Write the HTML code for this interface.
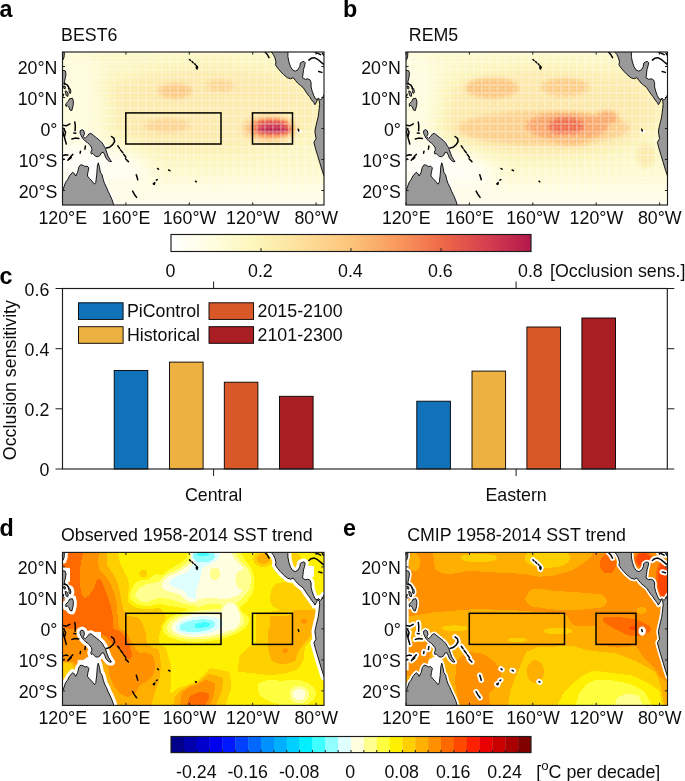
<!DOCTYPE html>
<html><head><meta charset="utf-8"><title>Figure</title>
<style>html,body{margin:0;padding:0;background:#fff}svg{display:block;will-change:transform}text{font-family:"Liberation Sans", sans-serif;font-size:17.8px;fill:#0d0d0d}.lab{font-weight:bold;font-size:23.3px;fill:#000}.ax{stroke:#1c1c1c;stroke-width:1.15;fill:none}.tk{stroke:#1c1c1c;stroke-width:1}.bx{stroke:#000;stroke-width:1.5;fill:none}.ld{fill:#999;stroke:#000;stroke-width:0.9;stroke-linejoin:round}.is{fill:none;stroke:#000;stroke-width:1.5;stroke-linecap:round;stroke-linejoin:round}</style></head><body>
<svg width="685" height="781" viewBox="0 0 685 781">
<rect width="685" height="781" fill="#fff"/>
<defs>
<filter id="fs" x="-5%" y="-5%" width="110%" height="110%" color-interpolation-filters="sRGB"><feGaussianBlur stdDeviation="2.1"/><feComponentTransfer><feFuncR type="table" tableValues="1.000 1.000 0.988 0.992 0.988 0.976 0.933 0.839 0.698"/><feFuncG type="table" tableValues="1.000 0.992 0.957 0.867 0.769 0.608 0.416 0.251 0.094"/><feFuncB type="table" tableValues="1.000 0.863 0.714 0.596 0.478 0.369 0.282 0.310 0.294"/><feFuncA type="linear" slope="0" intercept="1"/></feComponentTransfer></filter>
<filter id="fd" x="-5%" y="-5%" width="110%" height="110%" color-interpolation-filters="sRGB"><feGaussianBlur stdDeviation="1.5"/><feComponentTransfer><feFuncR type="discrete" tableValues="0.000 0.000 0.000 0.000 0.000 0.000 0.000 0.000 0.000 0.000 0.000 0.251 0.565 0.878 1.000 1.000 1.000 1.000 1.000 1.000 1.000 1.000 1.000 1.000 0.910 0.784 0.659 0.502"/><feFuncG type="discrete" tableValues="0.000 0.000 0.000 0.000 0.094 0.251 0.408 0.565 0.690 0.816 0.941 1.000 1.000 1.000 1.000 1.000 1.000 0.941 0.816 0.690 0.565 0.416 0.282 0.125 0.000 0.000 0.000 0.000"/><feFuncB type="discrete" tableValues="0.545 0.675 0.804 0.933 1.000 1.000 1.000 1.000 1.000 1.000 1.000 1.000 1.000 1.000 0.878 0.565 0.251 0.000 0.000 0.000 0.000 0.000 0.000 0.000 0.000 0.000 0.000 0.000"/><feFuncA type="linear" slope="0" intercept="1"/></feComponentTransfer></filter>
<filter id="fe" x="-5%" y="-5%" width="110%" height="110%" color-interpolation-filters="sRGB"><feGaussianBlur stdDeviation="1.8"/><feComponentTransfer><feFuncR type="discrete" tableValues="0.000 0.000 0.000 0.000 0.000 0.000 0.000 0.000 0.000 0.000 0.000 0.251 0.565 0.878 1.000 1.000 1.000 1.000 1.000 1.000 1.000 1.000 1.000 1.000 0.910 0.784 0.659 0.502"/><feFuncG type="discrete" tableValues="0.000 0.000 0.000 0.000 0.094 0.251 0.408 0.565 0.690 0.816 0.941 1.000 1.000 1.000 1.000 1.000 1.000 0.941 0.816 0.690 0.565 0.416 0.282 0.125 0.000 0.000 0.000 0.000"/><feFuncB type="discrete" tableValues="0.545 0.675 0.804 0.933 1.000 1.000 1.000 1.000 1.000 1.000 1.000 1.000 1.000 1.000 0.878 0.565 0.251 0.000 0.000 0.000 0.000 0.000 0.000 0.000 0.000 0.000 0.000 0.000"/><feFuncA type="linear" slope="0" intercept="1"/></feComponentTransfer></filter>
<filter id="fb" x="-20%" y="-20%" width="140%" height="140%" color-interpolation-filters="sRGB"><feGaussianBlur stdDeviation="9"/></filter>
<clipPath id="cm"><rect x="0" y="0" width="261.5" height="153"/></clipPath>
<pattern id="gr" x="3.6" y="1.2" width="7.925" height="7.75" patternUnits="userSpaceOnUse"><path d="M0 .8H7.925M.8 0V7.75" stroke="#fff" stroke-width="1.6" opacity=".36"/><path d="M0 4.7H7.925M4.75 0V7.75" stroke="#fff" stroke-width="1" opacity=".2"/></pattern>
<linearGradient id="g1" x1="0" x2="1" y1="0" y2="0">
<stop offset="0.0000" stop-color="#FFFFFF"/>
<stop offset="0.1250" stop-color="#FFFDDC"/>
<stop offset="0.2500" stop-color="#FCF4B6"/>
<stop offset="0.3750" stop-color="#FDDD98"/>
<stop offset="0.5000" stop-color="#FCC47A"/>
<stop offset="0.6250" stop-color="#F99B5E"/>
<stop offset="0.7500" stop-color="#EE6A48"/>
<stop offset="0.8750" stop-color="#D6404F"/>
<stop offset="1.0000" stop-color="#B2184B"/>
</linearGradient>
</defs>
<g transform="translate(62.5 52)">
<g clip-path="url(#cm)"><g filter="url(#fs)"><g filter="url(#fb)"><rect x="-20" y="-20" width="301.5" height="193" fill="#353535"/><ellipse cx="150" cy="58" rx="115" ry="46" fill="#4b4b4b"/><ellipse cx="12" cy="55" rx="32" ry="60" fill="#232323"/><ellipse cx="15" cy="135" rx="78" ry="42" fill="#080808"/><rect x="-20" y="126" width="310" height="60" fill="#202020"/><rect x="-20" y="142" width="310" height="60" fill="#131313"/><ellipse cx="135" cy="36" rx="100" ry="11" fill="#545454"/><ellipse cx="110" cy="76" rx="50" ry="12" fill="#545454"/></g><ellipse cx="112.7" cy="38.9" rx="17" ry="8" fill="#7b7b7b"/><ellipse cx="157.5" cy="33.8" rx="14" ry="6.5" fill="#6b6b6b"/><ellipse cx="104.5" cy="73.6" rx="23" ry="7" fill="#6e6e6e"/><ellipse cx="207" cy="76.5" rx="29" ry="15" fill="#696969"/><ellipse cx="208" cy="76.5" rx="23" ry="10.5" fill="#9f9f9f"/><ellipse cx="209" cy="71.4" rx="17" ry="3.4" fill="#dfdfdf"/><ellipse cx="210.5" cy="78" rx="18" ry="3.4" fill="#ffffff"/></g><rect width="261.5" height="153" fill="url(#gr)"/></g>
<g clip-path="url(#cm)"><polygon points="225.4,-2.4 225.4,-0.2 225.4,4.6 226.4,10 228.1,14.9 230.2,18.1 232.9,19.2 235.6,17.6 237.3,14.4 237.8,11.1 239.4,10 241.6,9.5 242.7,10.6 242.1,13.8 241,17.6 240.5,21.9 240,25.7 242.7,27.3 245.4,26.8 247.5,27.9 248.6,30.6 248.6,34.9 249.7,39.2 251.3,43.5 252.9,46.8 254.5,47.3 256.2,46.2 257.8,47.9 259.4,46.8 260.5,44.6 261.6,42.5 264,41.9 264,-2.4" fill="#fff"/><g fill="none" stroke="#fff" stroke-linejoin="round" opacity=".9"><polygon points="-1.9,139.1 0,139.1 3.1,130.3 5,127.8 6.9,124 10.1,120.3 11.9,121.5 13.2,124 15.1,120.3 16.3,115.2 18.2,112.7 20.7,113.4 22.6,114.6 24.5,114 26.4,115.9 25.4,120.3 24.9,124 27,126.5 29.5,129.1 32,132.2 33.3,130.3 34.2,122.8 34.9,114 35.8,110.8 37,115.2 37.9,120.3 39.6,122.8 40.8,127.8 42.1,131.6 44,135.3 45.8,139.7 47.7,143.5 49.6,147.9 51.7,154.2 -1.9,154.2" stroke-width="3.4"/><polygon points="17.6,78.8 19.5,77.6 21.4,78.8 22,82 20.7,84.5 22.6,86.4 24.5,84.5 26.4,82 28.3,81.3 30.8,83.2 33.9,85.7 37,88.2 39.6,90.8 41.4,93.9 42.7,95.8 43.3,97.7 44.6,101.4 45.8,104.6 47.7,107.7 49,109.6 47.1,109.6 45.2,108.3 43.3,105.8 42.1,102.7 40.8,100.2 38.9,100.8 37.7,103.3 35.8,104.6 33.3,104.6 31.4,102.7 30.1,101.4 28.9,102.1 28.3,100.2 29.5,97.7 28.9,95.2 27,92.6 25.1,90.8 23.2,89.5 22,88.2 20.1,86.4 18.8,83.9 17.6,81.3" stroke-width="2.6"/><polygon points="24,113.4 26.4,115.9 25.4,120.3 24.9,124 27,126.5 29.5,129.1 32,132.2 33.3,130.3 34.2,122.8 34.9,114 35.8,110.8 34,107.5 28.5,106.5 24.5,109" stroke-width="2.6" fill="#fff"/></g><rect x="234.6" y="78.2" width="5" height="2.6" fill="#fff"/><g class="ld"><polygon points="-1.9,139.1 0,139.1 3.1,130.3 5,127.8 6.9,124 10.1,120.3 11.9,121.5 13.2,124 15.1,120.3 16.3,115.2 18.2,112.7 20.7,113.4 22.6,114.6 24.5,114 26.4,115.9 25.4,120.3 24.9,124 27,126.5 29.5,129.1 32,132.2 33.3,130.3 34.2,122.8 34.9,114 35.8,110.8 37,115.2 37.9,120.3 39.6,122.8 40.8,127.8 42.1,131.6 44,135.3 45.8,139.7 47.7,143.5 49.6,147.9 51.7,154.2 -1.9,154.2"/><polygon points="17.6,78.8 19.5,77.6 21.4,78.8 22,82 20.7,84.5 22.6,86.4 24.5,84.5 26.4,82 28.3,81.3 30.8,83.2 33.9,85.7 37,88.2 39.6,90.8 41.4,93.9 42.7,95.8 43.3,97.7 44.6,101.4 45.8,104.6 47.7,107.7 49,109.6 47.1,109.6 45.2,108.3 43.3,105.8 42.1,102.7 40.8,100.2 38.9,100.8 37.7,103.3 35.8,104.6 33.3,104.6 31.4,102.7 30.1,101.4 28.9,102.1 28.3,100.2 29.5,97.7 28.9,95.2 27,92.6 25.1,90.8 23.2,89.5 22,88.2 20.1,86.4 18.8,83.9 17.6,81.3"/><polygon points="208.6,-2.4 208.6,-0.2 210.8,2.5 212.4,5.7 213.5,10 212.9,12.7 215.1,16 217.8,19.2 221,22.5 224.8,25.7 228.1,26.8 230.8,25.7 232.9,28.4 235.1,31.1 237.8,33.3 240.5,35.4 242.7,38.7 244.8,41.9 247,44.6 249.1,47.9 251.3,50.6 252.4,52.7 254,50 255.1,47.3 256.7,48.4 257.2,52.2 256.7,56.5 256.2,60.8 255.6,65.1 254.5,69.5 253.5,73.8 252.4,79 252.9,83 253.6,86.7 251.4,90.3 252.9,96.2 255.1,103.5 257.3,110.8 259.5,118.1 261.7,124.6 264,126 264,41.9 261.6,42.5 260.5,44.6 259.4,46.8 257.8,47.9 256.2,46.2 254.5,47.3 252.9,46.8 251.3,43.5 249.7,39.2 248.6,34.9 248.6,30.6 247.5,27.9 245.4,26.8 242.7,27.3 240,25.7 240.5,21.9 241,17.6 242.1,13.8 242.7,10.6 241.6,9.5 239.4,10 237.8,11.1 237.3,14.4 235.6,17.6 232.9,19.2 230.2,18.1 228.1,14.9 226.4,10 225.4,4.6 225.4,-0.2 225.4,-2.4"/><polygon points="-0.5,18.1 2.7,18.8 3.5,21.6 2.9,25.7 1.9,29.8 2.7,31.9 1.7,32.3 -0.5,30.9"/><polygon points="-0.5,0 1.9,0.4 1.6,5 0.6,7.8 -0.5,7.8"/><polygon points="3.2,51.9 5.8,49.3 7,46.8 9.9,46.3 10.9,49.3 10.7,53.4 9.3,58.6 7.6,58.1 6.3,55 4.7,53.4 3.5,54.5"/><polygon points="1.1,33.8 2.9,34.6 2.7,36.8 1.3,36.4"/><polygon points="5.8,36 7.7,36.6 8.4,39.5 7.9,41.4 6.5,40.6 6.7,38.4"/><polygon points="2.7,39 4.3,39.4 5.7,42 5.3,44.4 3.9,43.8 3.1,41.6"/></g><g class="is"><polyline points="1.9,31.6 4.7,32.9 6.3,35.5"/><polyline points="0.1,44.5 1.1,42.5"/><polyline points="127,7.5 128,8.5"/><polyline points="129.5,9.5 130.7,10.8"/><polyline points="132.1,11.8 132.9,12.6"/><polyline points="133.9,13.6 135.1,15.3 134.5,17 133.7,15.2"/><polyline points="44,96 47.1,95.2 50.2,92.6 52.1,89.5 51.5,86.4 49,84.5"/><polyline points="55.3,93.9 57.1,96.4"/><polyline points="58,97.9 60.3,100.8"/><polyline points="61.2,102.3 63.4,105.2"/><polyline points="63,106.7 65.9,109.6"/><polyline points="73.8,122.8 75.3,127.8"/><polyline points="70.1,139.1 71.8,142.2 74.1,145.4"/><polyline points="90.8,131.8 92.3,130.6 91.7,132.4 90.8,131.8"/><polyline points="93.9,128.2 94.8,127.6"/><polyline points="106.1,118 107.5,118.6"/><polyline points="133,129.2 133.8,129.8"/><polyline points="95,116.5 96,117.2"/><polyline points="235.7,77.2 236.3,79"/><polyline points="202.7,0.3 204.8,2.5 206.5,5.7"/><polyline points="246.4,8.1 248.6,6.3 251.8,5.7 255.1,7.3 258.3,10 261,12.2"/><polyline points="256.2,19.5 259.4,20.4"/><polyline points="252.9,0.5 255.6,1.4 258.1,2.7"/><polyline points="259.9,1.2 261.1,3"/><polyline points="12.3,70 12.8,73.8 12.6,78.8"/><polyline points="11.3,81.1 13.3,81.3"/><polyline points="0.3,73.2 3.8,73.8 7.3,71.9"/><polyline points="1,76.3 3.1,80.1 1.9,85.1 3.8,92"/><polyline points="0.3,78.8 1.3,83.9"/><polyline points="9.4,87 12.6,86.1 16.3,86.6"/><polyline points="22.9,94.1 22.4,97.2"/><polyline points="18,99.2 17.6,101.2"/><polyline points="5.3,108.3 8.2,104.6 10.3,102.4"/><polyline points="0,103.7 3.1,102.7 5.3,103.1"/><polyline points="0,107.7 1.5,107"/><polyline points="6.9,107.1 8.8,105.4"/></g></g>
<rect class="bx" x="63.3" y="60.9" width="95.2" height="31.1"/>
<rect class="bx" x="190" y="60.9" width="40" height="31.1"/>
<rect class="ax" x="0" y="0" width="261.5" height="153"/>
<path class="tk" d="M0 14.5 h2.6 M261.5 14.5 h-2.6"/>
<text x="-5.1" y="22" text-anchor="end">20°N</text>
<path class="tk" d="M0 45.5 h2.6 M261.5 45.5 h-2.6"/>
<text x="-5.1" y="53" text-anchor="end">10°N</text>
<path class="tk" d="M0 76.5 h2.6 M261.5 76.5 h-2.6"/>
<text x="-5.1" y="84" text-anchor="end">0°</text>
<path class="tk" d="M0 107.5 h2.6 M261.5 107.5 h-2.6"/>
<text x="-5.1" y="115" text-anchor="end">10°S</text>
<path class="tk" d="M0 138.5 h2.6 M261.5 138.5 h-2.6"/>
<text x="-5.1" y="146" text-anchor="end">20°S</text>
<path class="tk" d="M0 0 v2.6 M0 153 v-2.6"/>
<text x="0.2" y="171.6" text-anchor="middle">120°E</text>
<path class="tk" d="M63.4 0 v2.6 M63.4 153 v-2.6"/>
<text x="63.6" y="171.6" text-anchor="middle">160°E</text>
<path class="tk" d="M126.8 0 v2.6 M126.8 153 v-2.6"/>
<text x="127" y="171.6" text-anchor="middle">160°W</text>
<path class="tk" d="M190.2 0 v2.6 M190.2 153 v-2.6"/>
<text x="190.4" y="171.6" text-anchor="middle">120°W</text>
<path class="tk" d="M253.6 0 v2.6 M253.6 153 v-2.6"/>
<text x="253.8" y="171.6" text-anchor="middle">80°W</text>
<text x="-1.4" y="-11.3">BEST6</text>
</g>
<g transform="translate(406 52)">
<g clip-path="url(#cm)"><g filter="url(#fs)"><g filter="url(#fb)"><rect x="-20" y="-20" width="301.5" height="193" fill="#303030"/><ellipse cx="140" cy="60" rx="120" ry="48" fill="#494949"/><ellipse cx="5" cy="50" rx="28" ry="60" fill="#202020"/><ellipse cx="15" cy="135" rx="78" ry="42" fill="#080808"/><rect x="-20" y="130" width="310" height="60" fill="#1d1d1d"/><rect x="-20" y="145" width="310" height="60" fill="#101010"/><ellipse cx="118" cy="36" rx="78" ry="14" fill="#535353"/><ellipse cx="135" cy="76" rx="100" ry="24" fill="#565656"/><ellipse cx="205" cy="48" rx="45" ry="30" fill="#505050"/></g><ellipse cx="86" cy="36" rx="27" ry="10.5" fill="#808080"/><ellipse cx="159" cy="35" rx="24" ry="9.5" fill="#767676"/><ellipse cx="138" cy="76" rx="86" ry="17" fill="#737373"/><ellipse cx="161" cy="74" rx="42" ry="14" fill="#999999"/><ellipse cx="160" cy="74" rx="18" ry="9" fill="#bfbfbf"/><ellipse cx="165" cy="88" rx="20" ry="6" fill="#868686"/><ellipse cx="200.9" cy="65.5" rx="12" ry="7" fill="#969696"/><ellipse cx="240" cy="103" rx="10" ry="13" fill="#4e4e4e"/></g><rect width="261.5" height="153" fill="url(#gr)"/></g>
<g clip-path="url(#cm)"><polygon points="225.4,-2.4 225.4,-0.2 225.4,4.6 226.4,10 228.1,14.9 230.2,18.1 232.9,19.2 235.6,17.6 237.3,14.4 237.8,11.1 239.4,10 241.6,9.5 242.7,10.6 242.1,13.8 241,17.6 240.5,21.9 240,25.7 242.7,27.3 245.4,26.8 247.5,27.9 248.6,30.6 248.6,34.9 249.7,39.2 251.3,43.5 252.9,46.8 254.5,47.3 256.2,46.2 257.8,47.9 259.4,46.8 260.5,44.6 261.6,42.5 264,41.9 264,-2.4" fill="#fff"/><g fill="none" stroke="#fff" stroke-linejoin="round" opacity=".9"><polygon points="-1.9,139.1 0,139.1 3.1,130.3 5,127.8 6.9,124 10.1,120.3 11.9,121.5 13.2,124 15.1,120.3 16.3,115.2 18.2,112.7 20.7,113.4 22.6,114.6 24.5,114 26.4,115.9 25.4,120.3 24.9,124 27,126.5 29.5,129.1 32,132.2 33.3,130.3 34.2,122.8 34.9,114 35.8,110.8 37,115.2 37.9,120.3 39.6,122.8 40.8,127.8 42.1,131.6 44,135.3 45.8,139.7 47.7,143.5 49.6,147.9 51.7,154.2 -1.9,154.2" stroke-width="3.4"/><polygon points="17.6,78.8 19.5,77.6 21.4,78.8 22,82 20.7,84.5 22.6,86.4 24.5,84.5 26.4,82 28.3,81.3 30.8,83.2 33.9,85.7 37,88.2 39.6,90.8 41.4,93.9 42.7,95.8 43.3,97.7 44.6,101.4 45.8,104.6 47.7,107.7 49,109.6 47.1,109.6 45.2,108.3 43.3,105.8 42.1,102.7 40.8,100.2 38.9,100.8 37.7,103.3 35.8,104.6 33.3,104.6 31.4,102.7 30.1,101.4 28.9,102.1 28.3,100.2 29.5,97.7 28.9,95.2 27,92.6 25.1,90.8 23.2,89.5 22,88.2 20.1,86.4 18.8,83.9 17.6,81.3" stroke-width="2.6"/><polygon points="24,113.4 26.4,115.9 25.4,120.3 24.9,124 27,126.5 29.5,129.1 32,132.2 33.3,130.3 34.2,122.8 34.9,114 35.8,110.8 34,107.5 28.5,106.5 24.5,109" stroke-width="2.6" fill="#fff"/></g><rect x="234.6" y="78.2" width="5" height="2.6" fill="#fff"/><g class="ld"><polygon points="-1.9,139.1 0,139.1 3.1,130.3 5,127.8 6.9,124 10.1,120.3 11.9,121.5 13.2,124 15.1,120.3 16.3,115.2 18.2,112.7 20.7,113.4 22.6,114.6 24.5,114 26.4,115.9 25.4,120.3 24.9,124 27,126.5 29.5,129.1 32,132.2 33.3,130.3 34.2,122.8 34.9,114 35.8,110.8 37,115.2 37.9,120.3 39.6,122.8 40.8,127.8 42.1,131.6 44,135.3 45.8,139.7 47.7,143.5 49.6,147.9 51.7,154.2 -1.9,154.2"/><polygon points="17.6,78.8 19.5,77.6 21.4,78.8 22,82 20.7,84.5 22.6,86.4 24.5,84.5 26.4,82 28.3,81.3 30.8,83.2 33.9,85.7 37,88.2 39.6,90.8 41.4,93.9 42.7,95.8 43.3,97.7 44.6,101.4 45.8,104.6 47.7,107.7 49,109.6 47.1,109.6 45.2,108.3 43.3,105.8 42.1,102.7 40.8,100.2 38.9,100.8 37.7,103.3 35.8,104.6 33.3,104.6 31.4,102.7 30.1,101.4 28.9,102.1 28.3,100.2 29.5,97.7 28.9,95.2 27,92.6 25.1,90.8 23.2,89.5 22,88.2 20.1,86.4 18.8,83.9 17.6,81.3"/><polygon points="208.6,-2.4 208.6,-0.2 210.8,2.5 212.4,5.7 213.5,10 212.9,12.7 215.1,16 217.8,19.2 221,22.5 224.8,25.7 228.1,26.8 230.8,25.7 232.9,28.4 235.1,31.1 237.8,33.3 240.5,35.4 242.7,38.7 244.8,41.9 247,44.6 249.1,47.9 251.3,50.6 252.4,52.7 254,50 255.1,47.3 256.7,48.4 257.2,52.2 256.7,56.5 256.2,60.8 255.6,65.1 254.5,69.5 253.5,73.8 252.4,79 252.9,83 253.6,86.7 251.4,90.3 252.9,96.2 255.1,103.5 257.3,110.8 259.5,118.1 261.7,124.6 264,126 264,41.9 261.6,42.5 260.5,44.6 259.4,46.8 257.8,47.9 256.2,46.2 254.5,47.3 252.9,46.8 251.3,43.5 249.7,39.2 248.6,34.9 248.6,30.6 247.5,27.9 245.4,26.8 242.7,27.3 240,25.7 240.5,21.9 241,17.6 242.1,13.8 242.7,10.6 241.6,9.5 239.4,10 237.8,11.1 237.3,14.4 235.6,17.6 232.9,19.2 230.2,18.1 228.1,14.9 226.4,10 225.4,4.6 225.4,-0.2 225.4,-2.4"/><polygon points="-0.5,18.1 2.7,18.8 3.5,21.6 2.9,25.7 1.9,29.8 2.7,31.9 1.7,32.3 -0.5,30.9"/><polygon points="-0.5,0 1.9,0.4 1.6,5 0.6,7.8 -0.5,7.8"/><polygon points="3.2,51.9 5.8,49.3 7,46.8 9.9,46.3 10.9,49.3 10.7,53.4 9.3,58.6 7.6,58.1 6.3,55 4.7,53.4 3.5,54.5"/><polygon points="1.1,33.8 2.9,34.6 2.7,36.8 1.3,36.4"/><polygon points="5.8,36 7.7,36.6 8.4,39.5 7.9,41.4 6.5,40.6 6.7,38.4"/><polygon points="2.7,39 4.3,39.4 5.7,42 5.3,44.4 3.9,43.8 3.1,41.6"/></g><g class="is"><polyline points="1.9,31.6 4.7,32.9 6.3,35.5"/><polyline points="0.1,44.5 1.1,42.5"/><polyline points="127,7.5 128,8.5"/><polyline points="129.5,9.5 130.7,10.8"/><polyline points="132.1,11.8 132.9,12.6"/><polyline points="133.9,13.6 135.1,15.3 134.5,17 133.7,15.2"/><polyline points="44,96 47.1,95.2 50.2,92.6 52.1,89.5 51.5,86.4 49,84.5"/><polyline points="55.3,93.9 57.1,96.4"/><polyline points="58,97.9 60.3,100.8"/><polyline points="61.2,102.3 63.4,105.2"/><polyline points="63,106.7 65.9,109.6"/><polyline points="73.8,122.8 75.3,127.8"/><polyline points="70.1,139.1 71.8,142.2 74.1,145.4"/><polyline points="90.8,131.8 92.3,130.6 91.7,132.4 90.8,131.8"/><polyline points="93.9,128.2 94.8,127.6"/><polyline points="106.1,118 107.5,118.6"/><polyline points="133,129.2 133.8,129.8"/><polyline points="95,116.5 96,117.2"/><polyline points="235.7,77.2 236.3,79"/><polyline points="202.7,0.3 204.8,2.5 206.5,5.7"/><polyline points="246.4,8.1 248.6,6.3 251.8,5.7 255.1,7.3 258.3,10 261,12.2"/><polyline points="256.2,19.5 259.4,20.4"/><polyline points="252.9,0.5 255.6,1.4 258.1,2.7"/><polyline points="259.9,1.2 261.1,3"/><polyline points="12.3,70 12.8,73.8 12.6,78.8"/><polyline points="11.3,81.1 13.3,81.3"/><polyline points="0.3,73.2 3.8,73.8 7.3,71.9"/><polyline points="1,76.3 3.1,80.1 1.9,85.1 3.8,92"/><polyline points="0.3,78.8 1.3,83.9"/><polyline points="9.4,87 12.6,86.1 16.3,86.6"/><polyline points="22.9,94.1 22.4,97.2"/><polyline points="18,99.2 17.6,101.2"/><polyline points="5.3,108.3 8.2,104.6 10.3,102.4"/><polyline points="0,103.7 3.1,102.7 5.3,103.1"/><polyline points="0,107.7 1.5,107"/><polyline points="6.9,107.1 8.8,105.4"/></g></g>
<rect class="ax" x="0" y="0" width="261.5" height="153"/>
<path class="tk" d="M0 14.5 h2.6 M261.5 14.5 h-2.6"/>
<text x="-5.1" y="22" text-anchor="end">20°N</text>
<path class="tk" d="M0 45.5 h2.6 M261.5 45.5 h-2.6"/>
<text x="-5.1" y="53" text-anchor="end">10°N</text>
<path class="tk" d="M0 76.5 h2.6 M261.5 76.5 h-2.6"/>
<text x="-5.1" y="84" text-anchor="end">0°</text>
<path class="tk" d="M0 107.5 h2.6 M261.5 107.5 h-2.6"/>
<text x="-5.1" y="115" text-anchor="end">10°S</text>
<path class="tk" d="M0 138.5 h2.6 M261.5 138.5 h-2.6"/>
<text x="-5.1" y="146" text-anchor="end">20°S</text>
<path class="tk" d="M0 0 v2.6 M0 153 v-2.6"/>
<text x="0.2" y="171.6" text-anchor="middle">120°E</text>
<path class="tk" d="M63.4 0 v2.6 M63.4 153 v-2.6"/>
<text x="63.6" y="171.6" text-anchor="middle">160°E</text>
<path class="tk" d="M126.8 0 v2.6 M126.8 153 v-2.6"/>
<text x="127" y="171.6" text-anchor="middle">160°W</text>
<path class="tk" d="M190.2 0 v2.6 M190.2 153 v-2.6"/>
<text x="190.4" y="171.6" text-anchor="middle">120°W</text>
<path class="tk" d="M253.6 0 v2.6 M253.6 153 v-2.6"/>
<text x="253.8" y="171.6" text-anchor="middle">80°W</text>
<text x="2.8" y="-11.3">REM5</text>
</g>
<g transform="translate(62.5 552.4)">
<g clip-path="url(#cm)"><g filter="url(#fd)"><rect x="-20" y="-20" width="301.5" height="193" fill="#9f9f9f"/><polygon points="-10.4,-10.3 55.1,-10.3 55.1,-2.4 57.1,9.5 61,17.5 65,25.4 67,33.3 66,41.3 65,49.2 72.9,55.2 84.9,57.2 96.8,55.2 102.7,61.1 104.7,77.6 96.8,79.6 96.8,92.5 102.7,93.5 108.7,113.3 108.7,133.2 104.7,153.6 104.7,161 -10.4,161" fill="#a8a8a8"/><polygon points="-10.4,-10.3 45.1,-10.3 45.1,-2.4 44.2,11.5 49.1,19.4 54.1,27.4 57.1,37.3 59,49.2 61,57.2 64,63.1 76.9,65.1 82.9,77.6 82.9,77.6 84.9,92.5 96.8,97.4 98.8,113.3 96.8,129.2 92.8,139.1 88.8,153.6 88.8,161 -10.4,161" fill="#b2b2b2"/><polygon points="-10.4,-10.3 37.2,-10.3 37.2,-2.4 35.2,9.5 37.2,17.5 43.2,23.4 48.1,31.4 52.1,41.3 54.1,51.2 55.1,63.1 57.1,77.6 64,79.6 71,93.5 76.9,101.4 82.9,99.4 90.8,103.4 92.8,113.3 90.8,123.2 84.9,129.2 76.9,133.2 72.9,141.1 65,145.1 57.1,141.1 51.1,133.2 47.1,123.2 45.1,113.3 37.2,107.4 27.3,101.4 24.3,110.3 17.4,113.3 9.4,111.3 -10.4,111.3" fill="#bbbbbb"/><polygon points="-10.4,-10.3 22.3,-10.3 22.3,-2.4 19.3,5.5 17.4,17.5 17.4,31.4 19.3,43.3 22.3,46.2 27.3,42.3 32.2,34.3 34.2,26.4 37.2,25.4 40.2,31.4 44.2,41.3 48.1,53.2 50.1,63.1 51.1,77.6 57.1,77.6 64,85.5 67,93.5 70,103.4 67,108.3 63,105.4 57.1,97.4 51.1,91.5 47.1,87.5 43.2,83.5 37.2,81.5 29.3,77.6 21.3,79.6 17.4,75.6 9.4,77 1.5,75 -10.4,73" fill="#c4c4c4"/><polygon points="-10.4,111.3 9.4,110.3 11.4,119.3 7.4,127.2 -10.4,129.2" fill="#a4a4a4"/><polygon points="104.7,161 108.7,141.1 116.6,135.1 133.5,131.2 147.4,115.3 167.2,119.3 169.2,133.2 163.2,153.6 163.2,161" fill="#a8a8a8"/><polygon points="108.7,161 112.6,143.1 120.6,137.1 133.5,133.2 145.4,121.2 161.3,125.2 159.3,139.1 153.3,153.6 153.3,161" fill="#b2b2b2"/><polygon points="115.6,161 119.6,139.1 127.5,133.2 143.4,127.2 153.3,131.2 151.3,143.1 147.4,153.6 147.4,161" fill="#bbbbbb"/><polygon points="121.5,161 127.5,143.1 137.4,139.1 147.4,141.1 145.4,149 141.4,153.6 141.4,161" fill="#c4c4c4"/><polygon points="212.9,31.4 222.8,29.4 234.7,33.3 246.6,45.2 254.6,55.2 258.5,63.1 258.5,77.6 250.6,77.6 250.6,85.5 242.6,93.5 240.7,109.3 234.7,117.3 222.8,121.2 206.9,123.2 193,121.2 175.1,119.3 177.1,103.4 187.1,93.5 193,91.5 193,77.6 193,61.1 222.8,57.2 210.9,55.2 206.9,47.2 208.9,37.3" fill="#a8a8a8"/><polygon points="206.9,63.1 228.8,63.1 230.7,57.2 254.6,57.2 256.5,77.6 254.6,77.6 246.6,85.5 235.7,99.4 232.7,109.3 220.8,112.3 208.9,109.3 204.9,93.5 204.9,77.6 206.9,77.6" fill="#b2b2b2"/><ellipse cx="241.7" cy="69.1" rx="3.6" ry="2.4" fill="#bbbbbb"/><ellipse cx="222.8" cy="98.4" rx="3.4" ry="2.8" fill="#bbbbbb"/><ellipse cx="201" cy="6.5" rx="10.3" ry="8.3" fill="#a8a8a8"/><ellipse cx="201" cy="6.5" rx="7.1" ry="5.6" fill="#b2b2b2"/><ellipse cx="232.7" cy="7.5" rx="6.4" ry="7.1" fill="#a8a8a8"/><polygon points="67,40.3 72.9,30.4 80.9,26.4 85.8,27.4 92.8,21.4 100.7,23.4 105.7,17.5 116.6,11.5 124.6,5.5 126.5,-10.3 179.1,-10.3 179.1,0.6 182.1,7.5 189,15.5 192,27.4 191,39.3 183.1,51.2 171.2,57.2 147.4,57.2 133.5,59.1 133.5,57.2 116.6,55.2 104.7,53.2 96.8,51.2 84.9,54.2 72.9,51.2 67,46.2" fill="#969696"/><polygon points="71.9,43.3 76.9,35.3 84.9,31.7 96.8,29.4 102.7,22.4 116.6,16.5 128.5,6.5 130.5,-10.3 173.2,-10.3 173.2,0.6 177.1,7.5 185.1,15.5 189,25.4 187.1,37.3 179.1,47.2 167.2,53.2 147.4,51.2 133.5,55.2 133.5,53.2 120.6,51.2 108.7,47.2 96.8,45.2 84.9,49.6 76.9,48.8" fill="#8d8d8d"/><polygon points="98.8,32.3 104.7,24.4 116.6,19.4 130.5,9.5 133.5,-10.3 169.2,-10.3 169.2,0.6 171.2,5.5 179.1,13.5 185.1,23.4 183.1,35.3 175.1,43.3 163.2,47.2 147.4,45.2 135.4,47.2 133.5,50.2 124.6,48.8 116.6,41.7 108.7,39.7 100.7,37.3" fill="#848484"/><polygon points="104.7,30.4 112.6,24.4 124.6,19.8 133.5,9.5 133.5,-10.3 157.3,-10.3 157.3,0.6 155.3,7.5 147.4,11.5 139.4,15.5 137.4,27.4 133.5,37.3 133.5,47.2 126.5,45.2 120.6,37.3 112.6,35.3" fill="#7b7b7b"/><ellipse cx="152.3" cy="21.4" rx="5.6" ry="6.4" fill="#8d8d8d"/><ellipse cx="178.1" cy="27.4" rx="5.2" ry="9.9" fill="#8d8d8d"/><ellipse cx="140.4" cy="3.6" rx="11.9" ry="6.4" fill="#727272"/><ellipse cx="140.4" cy="1.2" rx="7.1" ry="2.8" fill="#696969"/><ellipse cx="80.9" cy="21.4" rx="4.4" ry="4.4" fill="#a8a8a8"/><ellipse cx="143" cy="72" rx="44" ry="17" fill="#969696" transform="rotate(-6 143 72)"/><ellipse cx="143" cy="72" rx="39" ry="14.5" fill="#8d8d8d" transform="rotate(-6 143 72)"/><ellipse cx="142" cy="72" rx="33" ry="12" fill="#848484" transform="rotate(-6 142 72)"/><ellipse cx="168" cy="64" rx="10" ry="14" fill="#848484"/><ellipse cx="137" cy="73" rx="24" ry="9" fill="#7b7b7b" transform="rotate(-6 137 73)"/><ellipse cx="135" cy="73.4" rx="18.5" ry="6.3" fill="#727272" transform="rotate(-6 135 73.4)"/><ellipse cx="140" cy="72.6" rx="9" ry="2.6" fill="#696969" transform="rotate(-6 140 72.6)"/><polygon points="195,131.2 206.9,127.2 222.8,129.2 226.8,139.1 222.8,149 210.9,151 197,143.1" fill="#969696"/><ellipse cx="230.7" cy="141.1" rx="22.8" ry="13.9" fill="#969696"/><ellipse cx="236.7" cy="142.1" rx="9.9" ry="9.1" fill="#8d8d8d"/><ellipse cx="236.7" cy="142.1" rx="6.4" ry="6" fill="#848484"/></g></g>
<g clip-path="url(#cm)"><g fill="#fff" stroke="#fff" stroke-linejoin="round" stroke-linecap="round"><polygon points="-1.9,139.1 0,139.1 3.1,130.3 5,127.8 6.9,124 10.1,120.3 11.9,121.5 13.2,124 15.1,120.3 16.3,115.2 18.2,112.7 20.7,113.4 22.6,114.6 24.5,114 26.4,115.9 25.4,120.3 24.9,124 27,126.5 29.5,129.1 32,132.2 33.3,130.3 34.2,122.8 34.9,114 35.8,110.8 37,115.2 37.9,120.3 39.6,122.8 40.8,127.8 42.1,131.6 44,135.3 45.8,139.7 47.7,143.5 49.6,147.9 51.7,154.2 -1.9,154.2" stroke-width="7"/><polygon points="17.6,78.8 19.5,77.6 21.4,78.8 22,82 20.7,84.5 22.6,86.4 24.5,84.5 26.4,82 28.3,81.3 30.8,83.2 33.9,85.7 37,88.2 39.6,90.8 41.4,93.9 42.7,95.8 43.3,97.7 44.6,101.4 45.8,104.6 47.7,107.7 49,109.6 47.1,109.6 45.2,108.3 43.3,105.8 42.1,102.7 40.8,100.2 38.9,100.8 37.7,103.3 35.8,104.6 33.3,104.6 31.4,102.7 30.1,101.4 28.9,102.1 28.3,100.2 29.5,97.7 28.9,95.2 27,92.6 25.1,90.8 23.2,89.5 22,88.2 20.1,86.4 18.8,83.9 17.6,81.3" stroke-width="7"/><polygon points="208.6,-2.4 208.6,-0.2 210.8,2.5 212.4,5.7 213.5,10 212.9,12.7 215.1,16 217.8,19.2 221,22.5 224.8,25.7 228.1,26.8 230.8,25.7 232.9,28.4 235.1,31.1 237.8,33.3 240.5,35.4 242.7,38.7 244.8,41.9 247,44.6 249.1,47.9 251.3,50.6 252.4,52.7 254,50 255.1,47.3 256.7,48.4 257.2,52.2 256.7,56.5 256.2,60.8 255.6,65.1 254.5,69.5 253.5,73.8 252.4,79 252.9,83 253.6,86.7 251.4,90.3 252.9,96.2 255.1,103.5 257.3,110.8 259.5,118.1 261.7,124.6 264,126 264,41.9 261.6,42.5 260.5,44.6 259.4,46.8 257.8,47.9 256.2,46.2 254.5,47.3 252.9,46.8 251.3,43.5 249.7,39.2 248.6,34.9 248.6,30.6 247.5,27.9 245.4,26.8 242.7,27.3 240,25.7 240.5,21.9 241,17.6 242.1,13.8 242.7,10.6 241.6,9.5 239.4,10 237.8,11.1 237.3,14.4 235.6,17.6 232.9,19.2 230.2,18.1 228.1,14.9 226.4,10 225.4,4.6 225.4,-0.2 225.4,-2.4" stroke-width="7"/><polygon points="-0.5,18.1 2.7,18.8 3.5,21.6 2.9,25.7 1.9,29.8 2.7,31.9 1.7,32.3 -0.5,30.9" stroke-width="7"/><polygon points="-0.5,0 1.9,0.4 1.6,5 0.6,7.8 -0.5,7.8" stroke-width="7"/><polygon points="3.2,51.9 5.8,49.3 7,46.8 9.9,46.3 10.9,49.3 10.7,53.4 9.3,58.6 7.6,58.1 6.3,55 4.7,53.4 3.5,54.5" stroke-width="7"/><polygon points="1.1,33.8 2.9,34.6 2.7,36.8 1.3,36.4" stroke-width="7"/><polygon points="5.8,36 7.7,36.6 8.4,39.5 7.9,41.4 6.5,40.6 6.7,38.4" stroke-width="7"/><polygon points="2.7,39 4.3,39.4 5.7,42 5.3,44.4 3.9,43.8 3.1,41.6" stroke-width="7"/><polygon points="24,113.4 26.4,115.9 25.4,120.3 24.9,124 27,126.5 29.5,129.1 32,132.2 33.3,130.3 34.2,122.8 34.9,114 35.8,110.8 34,107.5 28.5,106.5 24.5,109" stroke-width="7"/><rect x="0" y="16" width="7" height="13"/><rect x="4" y="44" width="9" height="14"/><rect x="24" y="80" width="14" height="7"/><rect x="16" y="108" width="20" height="7"/><rect x="242" y="14" width="9" height="10"/></g><g class="ld"><polygon points="-1.9,139.1 0,139.1 3.1,130.3 5,127.8 6.9,124 10.1,120.3 11.9,121.5 13.2,124 15.1,120.3 16.3,115.2 18.2,112.7 20.7,113.4 22.6,114.6 24.5,114 26.4,115.9 25.4,120.3 24.9,124 27,126.5 29.5,129.1 32,132.2 33.3,130.3 34.2,122.8 34.9,114 35.8,110.8 37,115.2 37.9,120.3 39.6,122.8 40.8,127.8 42.1,131.6 44,135.3 45.8,139.7 47.7,143.5 49.6,147.9 51.7,154.2 -1.9,154.2"/><polygon points="17.6,78.8 19.5,77.6 21.4,78.8 22,82 20.7,84.5 22.6,86.4 24.5,84.5 26.4,82 28.3,81.3 30.8,83.2 33.9,85.7 37,88.2 39.6,90.8 41.4,93.9 42.7,95.8 43.3,97.7 44.6,101.4 45.8,104.6 47.7,107.7 49,109.6 47.1,109.6 45.2,108.3 43.3,105.8 42.1,102.7 40.8,100.2 38.9,100.8 37.7,103.3 35.8,104.6 33.3,104.6 31.4,102.7 30.1,101.4 28.9,102.1 28.3,100.2 29.5,97.7 28.9,95.2 27,92.6 25.1,90.8 23.2,89.5 22,88.2 20.1,86.4 18.8,83.9 17.6,81.3"/><polygon points="208.6,-2.4 208.6,-0.2 210.8,2.5 212.4,5.7 213.5,10 212.9,12.7 215.1,16 217.8,19.2 221,22.5 224.8,25.7 228.1,26.8 230.8,25.7 232.9,28.4 235.1,31.1 237.8,33.3 240.5,35.4 242.7,38.7 244.8,41.9 247,44.6 249.1,47.9 251.3,50.6 252.4,52.7 254,50 255.1,47.3 256.7,48.4 257.2,52.2 256.7,56.5 256.2,60.8 255.6,65.1 254.5,69.5 253.5,73.8 252.4,79 252.9,83 253.6,86.7 251.4,90.3 252.9,96.2 255.1,103.5 257.3,110.8 259.5,118.1 261.7,124.6 264,126 264,41.9 261.6,42.5 260.5,44.6 259.4,46.8 257.8,47.9 256.2,46.2 254.5,47.3 252.9,46.8 251.3,43.5 249.7,39.2 248.6,34.9 248.6,30.6 247.5,27.9 245.4,26.8 242.7,27.3 240,25.7 240.5,21.9 241,17.6 242.1,13.8 242.7,10.6 241.6,9.5 239.4,10 237.8,11.1 237.3,14.4 235.6,17.6 232.9,19.2 230.2,18.1 228.1,14.9 226.4,10 225.4,4.6 225.4,-0.2 225.4,-2.4"/><polygon points="-0.5,18.1 2.7,18.8 3.5,21.6 2.9,25.7 1.9,29.8 2.7,31.9 1.7,32.3 -0.5,30.9"/><polygon points="-0.5,0 1.9,0.4 1.6,5 0.6,7.8 -0.5,7.8"/><polygon points="3.2,51.9 5.8,49.3 7,46.8 9.9,46.3 10.9,49.3 10.7,53.4 9.3,58.6 7.6,58.1 6.3,55 4.7,53.4 3.5,54.5"/><polygon points="1.1,33.8 2.9,34.6 2.7,36.8 1.3,36.4"/><polygon points="5.8,36 7.7,36.6 8.4,39.5 7.9,41.4 6.5,40.6 6.7,38.4"/><polygon points="2.7,39 4.3,39.4 5.7,42 5.3,44.4 3.9,43.8 3.1,41.6"/></g><g class="is"><polyline points="1.9,31.6 4.7,32.9 6.3,35.5"/><polyline points="0.1,44.5 1.1,42.5"/><polyline points="127,7.5 128,8.5"/><polyline points="129.5,9.5 130.7,10.8"/><polyline points="132.1,11.8 132.9,12.6"/><polyline points="133.9,13.6 135.1,15.3 134.5,17 133.7,15.2"/><polyline points="44,96 47.1,95.2 50.2,92.6 52.1,89.5 51.5,86.4 49,84.5"/><polyline points="55.3,93.9 57.1,96.4"/><polyline points="58,97.9 60.3,100.8"/><polyline points="61.2,102.3 63.4,105.2"/><polyline points="63,106.7 65.9,109.6"/><polyline points="73.8,122.8 75.3,127.8"/><polyline points="70.1,139.1 71.8,142.2 74.1,145.4"/><polyline points="90.8,131.8 92.3,130.6 91.7,132.4 90.8,131.8"/><polyline points="93.9,128.2 94.8,127.6"/><polyline points="106.1,118 107.5,118.6"/><polyline points="133,129.2 133.8,129.8"/><polyline points="95,116.5 96,117.2"/><polyline points="235.7,77.2 236.3,79"/><polyline points="202.7,0.3 204.8,2.5 206.5,5.7"/><polyline points="246.4,8.1 248.6,6.3 251.8,5.7 255.1,7.3 258.3,10 261,12.2"/><polyline points="256.2,19.5 259.4,20.4"/><polyline points="252.9,0.5 255.6,1.4 258.1,2.7"/><polyline points="259.9,1.2 261.1,3"/><polyline points="12.3,70 12.8,73.8 12.6,78.8"/><polyline points="11.3,81.1 13.3,81.3"/><polyline points="0.3,73.2 3.8,73.8 7.3,71.9"/><polyline points="1,76.3 3.1,80.1 1.9,85.1 3.8,92"/><polyline points="0.3,78.8 1.3,83.9"/><polyline points="9.4,87 12.6,86.1 16.3,86.6"/><polyline points="22.9,94.1 22.4,97.2"/><polyline points="18,99.2 17.6,101.2"/><polyline points="5.3,108.3 8.2,104.6 10.3,102.4"/><polyline points="0,103.7 3.1,102.7 5.3,103.1"/><polyline points="0,107.7 1.5,107"/><polyline points="6.9,107.1 8.8,105.4"/></g></g>
<rect class="bx" x="63.3" y="60.9" width="95.2" height="31.1"/>
<rect class="bx" x="190" y="60.9" width="40" height="31.1"/>
<rect class="ax" x="0" y="0" width="261.5" height="153"/>
<path class="tk" d="M0 14.5 h2.6 M261.5 14.5 h-2.6"/>
<text x="-5.1" y="22" text-anchor="end">20°N</text>
<path class="tk" d="M0 45.5 h2.6 M261.5 45.5 h-2.6"/>
<text x="-5.1" y="53" text-anchor="end">10°N</text>
<path class="tk" d="M0 76.5 h2.6 M261.5 76.5 h-2.6"/>
<text x="-5.1" y="84" text-anchor="end">0°</text>
<path class="tk" d="M0 107.5 h2.6 M261.5 107.5 h-2.6"/>
<text x="-5.1" y="115" text-anchor="end">10°S</text>
<path class="tk" d="M0 138.5 h2.6 M261.5 138.5 h-2.6"/>
<text x="-5.1" y="146" text-anchor="end">20°S</text>
<path class="tk" d="M0 0 v2.6 M0 153 v-2.6"/>
<text x="0.2" y="171.6" text-anchor="middle">120°E</text>
<path class="tk" d="M63.4 0 v2.6 M63.4 153 v-2.6"/>
<text x="63.6" y="171.6" text-anchor="middle">160°E</text>
<path class="tk" d="M126.8 0 v2.6 M126.8 153 v-2.6"/>
<text x="127" y="171.6" text-anchor="middle">160°W</text>
<path class="tk" d="M190.2 0 v2.6 M190.2 153 v-2.6"/>
<text x="190.4" y="171.6" text-anchor="middle">120°W</text>
<path class="tk" d="M253.6 0 v2.6 M253.6 153 v-2.6"/>
<text x="253.8" y="171.6" text-anchor="middle">80°W</text>
<text x="-1.6" y="-11.3">Observed 1958-2014 SST trend</text>
</g>
<g transform="translate(406 552.4)">
<g clip-path="url(#cm)"><g filter="url(#fe)"><rect x="-20" y="-20" width="301.5" height="193" fill="#bbbbbb"/><polygon points="27.2,-10.3 27.2,1.6 29.2,17.5 41.1,22.4 62.9,18.4 96.7,20.4 116.5,21.4 133.4,24.4 147.3,23.4 167.1,17.5 179,9.5 187,1.6 187,-10.3" fill="#b2b2b2"/><ellipse cx="72.8" cy="5.5" rx="18.9" ry="4" fill="#a8a8a8"/><ellipse cx="141.3" cy="5.5" rx="22.8" ry="9.9" fill="#a8a8a8"/><ellipse cx="8.3" cy="9.5" rx="6" ry="9.5" fill="#b2b2b2"/><polygon points="118.5,47.2 124.5,37.3 133.4,36.3 147.3,38.3 177,40.3 196.9,42.3 201.8,49.2 196.9,55.2 177,57.2 147.3,57.2 133.4,55.2 124.5,54.2" fill="#b2b2b2"/><polygon points="-10.5,66.1 9.3,63.1 27.2,60.1 62.9,57.2 86.7,57.2 104.6,57.6 133.4,59.5 147.3,60.7 159.2,61.1 167.1,73 190.9,74 190.9,81.5 190.9,92.5 210.8,95.4 230.6,93.5 234.6,101.4 246.5,113.3 254.5,125.2 266.4,133.2 266.4,161 -10.5,161" fill="#b2b2b2"/><polygon points="51,107.4 62.9,99.4 76.8,101.4 86.7,107.4 94.7,117.3 94.7,129.2 88.7,135.1 82.8,141.1 84.8,161 57,161 51,143.1 49,129.2 50,117.3" fill="#bbbbbb"/><polygon points="-10.5,89.5 23.2,89.5 25.2,99.4 21.2,113.3 9.3,123.2 -10.5,125.2" fill="#bbbbbb"/><polygon points="100.6,161 104.6,139.1 108.6,127.2 114.5,113.3 120.5,99.4 133.4,94.4 147.3,94.4 167.1,93.5 179,97.4 192.9,99.4 210.8,101.4 226.7,107.4 238.6,113.3 250.5,121.2 254.5,133.2 256.4,161" fill="#a8a8a8"/><ellipse cx="129.4" cy="119.3" rx="8.9" ry="11.9" fill="#b2b2b2"/><polygon points="147.3,161 157.2,141.1 167.1,131.2 177,123.2 187,118.3 196.9,119.3 210.8,121.2 226.7,123.2 242.5,131.2 254.5,139.1 258.4,161" fill="#9f9f9f"/><polygon points="167.1,161 173.1,141.1 181,131.2 190.9,127.2 206.8,128.2 222.7,131.2 238.6,139.1 250.5,161" fill="#969696"/><polygon points="206.8,161 210.8,145.1 220.7,141.1 232.6,143.1 240.6,161" fill="#8d8d8d"/><ellipse cx="152.2" cy="78.6" rx="14.9" ry="3.2" fill="#a8a8a8"/><ellipse cx="111.6" cy="87.5" rx="11.9" ry="2.6" fill="#ababab"/><ellipse cx="49" cy="75.8" rx="13.9" ry="2.8" fill="#a8a8a8"/><ellipse cx="201.8" cy="11.5" rx="8.3" ry="9.9" fill="#c4c4c4"/><polygon points="196.2,65.1 209,64 230.1,66.9 244.1,73.3 245.3,78 239.4,82.6 230.1,83.8 220.7,82.6 209,76.8 197.4,69.8" fill="#c4c4c4"/><polygon points="220.1,75.4 225.4,74 230.3,73.5 230.3,78.7 225.4,77.3" fill="#cecece"/><ellipse cx="235.5" cy="58" rx="5.5" ry="3.4" fill="#b2b2b2"/><ellipse cx="237.6" cy="7.5" rx="8.9" ry="8.3" fill="#cbcbcb"/><ellipse cx="257.4" cy="27.4" rx="7.1" ry="18.9" fill="#cbcbcb"/></g></g>
<g clip-path="url(#cm)"><g fill="#fff" stroke="#fff" stroke-linejoin="round" stroke-linecap="round"><polygon points="-1.9,139.1 0,139.1 3.1,130.3 5,127.8 6.9,124 10.1,120.3 11.9,121.5 13.2,124 15.1,120.3 16.3,115.2 18.2,112.7 20.7,113.4 22.6,114.6 24.5,114 26.4,115.9 25.4,120.3 24.9,124 27,126.5 29.5,129.1 32,132.2 33.3,130.3 34.2,122.8 34.9,114 35.8,110.8 37,115.2 37.9,120.3 39.6,122.8 40.8,127.8 42.1,131.6 44,135.3 45.8,139.7 47.7,143.5 49.6,147.9 51.7,154.2 -1.9,154.2" stroke-width="4.4"/><polygon points="17.6,78.8 19.5,77.6 21.4,78.8 22,82 20.7,84.5 22.6,86.4 24.5,84.5 26.4,82 28.3,81.3 30.8,83.2 33.9,85.7 37,88.2 39.6,90.8 41.4,93.9 42.7,95.8 43.3,97.7 44.6,101.4 45.8,104.6 47.7,107.7 49,109.6 47.1,109.6 45.2,108.3 43.3,105.8 42.1,102.7 40.8,100.2 38.9,100.8 37.7,103.3 35.8,104.6 33.3,104.6 31.4,102.7 30.1,101.4 28.9,102.1 28.3,100.2 29.5,97.7 28.9,95.2 27,92.6 25.1,90.8 23.2,89.5 22,88.2 20.1,86.4 18.8,83.9 17.6,81.3" stroke-width="4.4"/><polygon points="208.6,-2.4 208.6,-0.2 210.8,2.5 212.4,5.7 213.5,10 212.9,12.7 215.1,16 217.8,19.2 221,22.5 224.8,25.7 228.1,26.8 230.8,25.7 232.9,28.4 235.1,31.1 237.8,33.3 240.5,35.4 242.7,38.7 244.8,41.9 247,44.6 249.1,47.9 251.3,50.6 252.4,52.7 254,50 255.1,47.3 256.7,48.4 257.2,52.2 256.7,56.5 256.2,60.8 255.6,65.1 254.5,69.5 253.5,73.8 252.4,79 252.9,83 253.6,86.7 251.4,90.3 252.9,96.2 255.1,103.5 257.3,110.8 259.5,118.1 261.7,124.6 264,126 264,41.9 261.6,42.5 260.5,44.6 259.4,46.8 257.8,47.9 256.2,46.2 254.5,47.3 252.9,46.8 251.3,43.5 249.7,39.2 248.6,34.9 248.6,30.6 247.5,27.9 245.4,26.8 242.7,27.3 240,25.7 240.5,21.9 241,17.6 242.1,13.8 242.7,10.6 241.6,9.5 239.4,10 237.8,11.1 237.3,14.4 235.6,17.6 232.9,19.2 230.2,18.1 228.1,14.9 226.4,10 225.4,4.6 225.4,-0.2 225.4,-2.4" stroke-width="4.4"/><polygon points="-0.5,18.1 2.7,18.8 3.5,21.6 2.9,25.7 1.9,29.8 2.7,31.9 1.7,32.3 -0.5,30.9" stroke-width="4.4"/><polygon points="-0.5,0 1.9,0.4 1.6,5 0.6,7.8 -0.5,7.8" stroke-width="4.4"/><polygon points="3.2,51.9 5.8,49.3 7,46.8 9.9,46.3 10.9,49.3 10.7,53.4 9.3,58.6 7.6,58.1 6.3,55 4.7,53.4 3.5,54.5" stroke-width="4.4"/><polygon points="1.1,33.8 2.9,34.6 2.7,36.8 1.3,36.4" stroke-width="4.4"/><polygon points="5.8,36 7.7,36.6 8.4,39.5 7.9,41.4 6.5,40.6 6.7,38.4" stroke-width="4.4"/><polygon points="2.7,39 4.3,39.4 5.7,42 5.3,44.4 3.9,43.8 3.1,41.6" stroke-width="4.4"/><polygon points="24,113.4 26.4,115.9 25.4,120.3 24.9,124 27,126.5 29.5,129.1 32,132.2 33.3,130.3 34.2,122.8 34.9,114 35.8,110.8 34,107.5 28.5,106.5 24.5,109" stroke-width="4.4"/><polyline points="1.9,31.6 4.7,32.9 6.3,35.5" stroke-width="5.4" fill="none"/><polyline points="0.1,44.5 1.1,42.5" stroke-width="5.4" fill="none"/><polyline points="127,7.5 128,8.5" stroke-width="5.4" fill="none"/><polyline points="129.5,9.5 130.7,10.8" stroke-width="5.4" fill="none"/><polyline points="132.1,11.8 132.9,12.6" stroke-width="5.4" fill="none"/><polyline points="133.9,13.6 135.1,15.3 134.5,17 133.7,15.2" stroke-width="5.4" fill="none"/><polyline points="44,96 47.1,95.2 50.2,92.6 52.1,89.5 51.5,86.4 49,84.5" stroke-width="5.4" fill="none"/><polyline points="55.3,93.9 57.1,96.4" stroke-width="5.4" fill="none"/><polyline points="58,97.9 60.3,100.8" stroke-width="5.4" fill="none"/><polyline points="61.2,102.3 63.4,105.2" stroke-width="5.4" fill="none"/><polyline points="63,106.7 65.9,109.6" stroke-width="5.4" fill="none"/><polyline points="73.8,122.8 75.3,127.8" stroke-width="5.4" fill="none"/><polyline points="70.1,139.1 71.8,142.2 74.1,145.4" stroke-width="5.4" fill="none"/><polyline points="90.8,131.8 92.3,130.6 91.7,132.4 90.8,131.8" stroke-width="5.4" fill="none"/><polyline points="93.9,128.2 94.8,127.6" stroke-width="5.4" fill="none"/><polyline points="106.1,118 107.5,118.6" stroke-width="5.4" fill="none"/><polyline points="133,129.2 133.8,129.8" stroke-width="5.4" fill="none"/><polyline points="95,116.5 96,117.2" stroke-width="5.4" fill="none"/><polyline points="235.7,77.2 236.3,79" stroke-width="5.4" fill="none"/><polyline points="202.7,0.3 204.8,2.5 206.5,5.7" stroke-width="5.4" fill="none"/><polyline points="246.4,8.1 248.6,6.3 251.8,5.7 255.1,7.3 258.3,10 261,12.2" stroke-width="5.4" fill="none"/><polyline points="256.2,19.5 259.4,20.4" stroke-width="5.4" fill="none"/><polyline points="252.9,0.5 255.6,1.4 258.1,2.7" stroke-width="5.4" fill="none"/><polyline points="259.9,1.2 261.1,3" stroke-width="5.4" fill="none"/><polyline points="12.3,70 12.8,73.8 12.6,78.8" stroke-width="5.4" fill="none"/><polyline points="11.3,81.1 13.3,81.3" stroke-width="5.4" fill="none"/><polyline points="0.3,73.2 3.8,73.8 7.3,71.9" stroke-width="5.4" fill="none"/><polyline points="1,76.3 3.1,80.1 1.9,85.1 3.8,92" stroke-width="5.4" fill="none"/><polyline points="0.3,78.8 1.3,83.9" stroke-width="5.4" fill="none"/><polyline points="9.4,87 12.6,86.1 16.3,86.6" stroke-width="5.4" fill="none"/><polyline points="22.9,94.1 22.4,97.2" stroke-width="5.4" fill="none"/><polyline points="18,99.2 17.6,101.2" stroke-width="5.4" fill="none"/><polyline points="5.3,108.3 8.2,104.6 10.3,102.4" stroke-width="5.4" fill="none"/><polyline points="0,103.7 3.1,102.7 5.3,103.1" stroke-width="5.4" fill="none"/><polyline points="0,107.7 1.5,107" stroke-width="5.4" fill="none"/><polyline points="6.9,107.1 8.8,105.4" stroke-width="5.4" fill="none"/><ellipse cx="236.2" cy="78.8" rx="2.7" ry="3.6" stroke-width="2"/><rect x="0" y="0" width="2.6" height="118" stroke="none"/></g><g class="ld"><polygon points="-1.9,139.1 0,139.1 3.1,130.3 5,127.8 6.9,124 10.1,120.3 11.9,121.5 13.2,124 15.1,120.3 16.3,115.2 18.2,112.7 20.7,113.4 22.6,114.6 24.5,114 26.4,115.9 25.4,120.3 24.9,124 27,126.5 29.5,129.1 32,132.2 33.3,130.3 34.2,122.8 34.9,114 35.8,110.8 37,115.2 37.9,120.3 39.6,122.8 40.8,127.8 42.1,131.6 44,135.3 45.8,139.7 47.7,143.5 49.6,147.9 51.7,154.2 -1.9,154.2"/><polygon points="17.6,78.8 19.5,77.6 21.4,78.8 22,82 20.7,84.5 22.6,86.4 24.5,84.5 26.4,82 28.3,81.3 30.8,83.2 33.9,85.7 37,88.2 39.6,90.8 41.4,93.9 42.7,95.8 43.3,97.7 44.6,101.4 45.8,104.6 47.7,107.7 49,109.6 47.1,109.6 45.2,108.3 43.3,105.8 42.1,102.7 40.8,100.2 38.9,100.8 37.7,103.3 35.8,104.6 33.3,104.6 31.4,102.7 30.1,101.4 28.9,102.1 28.3,100.2 29.5,97.7 28.9,95.2 27,92.6 25.1,90.8 23.2,89.5 22,88.2 20.1,86.4 18.8,83.9 17.6,81.3"/><polygon points="208.6,-2.4 208.6,-0.2 210.8,2.5 212.4,5.7 213.5,10 212.9,12.7 215.1,16 217.8,19.2 221,22.5 224.8,25.7 228.1,26.8 230.8,25.7 232.9,28.4 235.1,31.1 237.8,33.3 240.5,35.4 242.7,38.7 244.8,41.9 247,44.6 249.1,47.9 251.3,50.6 252.4,52.7 254,50 255.1,47.3 256.7,48.4 257.2,52.2 256.7,56.5 256.2,60.8 255.6,65.1 254.5,69.5 253.5,73.8 252.4,79 252.9,83 253.6,86.7 251.4,90.3 252.9,96.2 255.1,103.5 257.3,110.8 259.5,118.1 261.7,124.6 264,126 264,41.9 261.6,42.5 260.5,44.6 259.4,46.8 257.8,47.9 256.2,46.2 254.5,47.3 252.9,46.8 251.3,43.5 249.7,39.2 248.6,34.9 248.6,30.6 247.5,27.9 245.4,26.8 242.7,27.3 240,25.7 240.5,21.9 241,17.6 242.1,13.8 242.7,10.6 241.6,9.5 239.4,10 237.8,11.1 237.3,14.4 235.6,17.6 232.9,19.2 230.2,18.1 228.1,14.9 226.4,10 225.4,4.6 225.4,-0.2 225.4,-2.4"/><polygon points="-0.5,18.1 2.7,18.8 3.5,21.6 2.9,25.7 1.9,29.8 2.7,31.9 1.7,32.3 -0.5,30.9"/><polygon points="-0.5,0 1.9,0.4 1.6,5 0.6,7.8 -0.5,7.8"/><polygon points="3.2,51.9 5.8,49.3 7,46.8 9.9,46.3 10.9,49.3 10.7,53.4 9.3,58.6 7.6,58.1 6.3,55 4.7,53.4 3.5,54.5"/><polygon points="1.1,33.8 2.9,34.6 2.7,36.8 1.3,36.4"/><polygon points="5.8,36 7.7,36.6 8.4,39.5 7.9,41.4 6.5,40.6 6.7,38.4"/><polygon points="2.7,39 4.3,39.4 5.7,42 5.3,44.4 3.9,43.8 3.1,41.6"/></g><g class="is"><polyline points="1.9,31.6 4.7,32.9 6.3,35.5"/><polyline points="0.1,44.5 1.1,42.5"/><polyline points="127,7.5 128,8.5"/><polyline points="129.5,9.5 130.7,10.8"/><polyline points="132.1,11.8 132.9,12.6"/><polyline points="133.9,13.6 135.1,15.3 134.5,17 133.7,15.2"/><polyline points="44,96 47.1,95.2 50.2,92.6 52.1,89.5 51.5,86.4 49,84.5"/><polyline points="55.3,93.9 57.1,96.4"/><polyline points="58,97.9 60.3,100.8"/><polyline points="61.2,102.3 63.4,105.2"/><polyline points="63,106.7 65.9,109.6"/><polyline points="73.8,122.8 75.3,127.8"/><polyline points="70.1,139.1 71.8,142.2 74.1,145.4"/><polyline points="90.8,131.8 92.3,130.6 91.7,132.4 90.8,131.8"/><polyline points="93.9,128.2 94.8,127.6"/><polyline points="106.1,118 107.5,118.6"/><polyline points="133,129.2 133.8,129.8"/><polyline points="95,116.5 96,117.2"/><polyline points="235.7,77.2 236.3,79"/><polyline points="202.7,0.3 204.8,2.5 206.5,5.7"/><polyline points="246.4,8.1 248.6,6.3 251.8,5.7 255.1,7.3 258.3,10 261,12.2"/><polyline points="256.2,19.5 259.4,20.4"/><polyline points="252.9,0.5 255.6,1.4 258.1,2.7"/><polyline points="259.9,1.2 261.1,3"/><polyline points="12.3,70 12.8,73.8 12.6,78.8"/><polyline points="11.3,81.1 13.3,81.3"/><polyline points="0.3,73.2 3.8,73.8 7.3,71.9"/><polyline points="1,76.3 3.1,80.1 1.9,85.1 3.8,92"/><polyline points="0.3,78.8 1.3,83.9"/><polyline points="9.4,87 12.6,86.1 16.3,86.6"/><polyline points="22.9,94.1 22.4,97.2"/><polyline points="18,99.2 17.6,101.2"/><polyline points="5.3,108.3 8.2,104.6 10.3,102.4"/><polyline points="0,103.7 3.1,102.7 5.3,103.1"/><polyline points="0,107.7 1.5,107"/><polyline points="6.9,107.1 8.8,105.4"/></g></g>
<rect class="bx" x="63.3" y="60.9" width="95.2" height="31.1"/>
<rect class="bx" x="190" y="60.9" width="40" height="31.1"/>
<rect class="ax" x="0" y="0" width="261.5" height="153"/>
<path class="tk" d="M0 14.5 h2.6 M261.5 14.5 h-2.6"/>
<text x="-5.1" y="22" text-anchor="end">20°N</text>
<path class="tk" d="M0 45.5 h2.6 M261.5 45.5 h-2.6"/>
<text x="-5.1" y="53" text-anchor="end">10°N</text>
<path class="tk" d="M0 76.5 h2.6 M261.5 76.5 h-2.6"/>
<text x="-5.1" y="84" text-anchor="end">0°</text>
<path class="tk" d="M0 107.5 h2.6 M261.5 107.5 h-2.6"/>
<text x="-5.1" y="115" text-anchor="end">10°S</text>
<path class="tk" d="M0 138.5 h2.6 M261.5 138.5 h-2.6"/>
<text x="-5.1" y="146" text-anchor="end">20°S</text>
<path class="tk" d="M0 0 v2.6 M0 153 v-2.6"/>
<text x="0.2" y="171.6" text-anchor="middle">120°E</text>
<path class="tk" d="M63.4 0 v2.6 M63.4 153 v-2.6"/>
<text x="63.6" y="171.6" text-anchor="middle">160°E</text>
<path class="tk" d="M126.8 0 v2.6 M126.8 153 v-2.6"/>
<text x="127" y="171.6" text-anchor="middle">160°W</text>
<path class="tk" d="M190.2 0 v2.6 M190.2 153 v-2.6"/>
<text x="190.4" y="171.6" text-anchor="middle">120°W</text>
<path class="tk" d="M253.6 0 v2.6 M253.6 153 v-2.6"/>
<text x="253.8" y="171.6" text-anchor="middle">80°W</text>
<text x="1.2" y="-11.3">CMIP 1958-2014 SST trend</text>
</g>
<text class="lab" x="-0.6" y="17.4">a</text>
<text class="lab" x="342.9" y="17.4">b</text>
<text class="lab" x="-0.6" y="284.2">c</text>
<text class="lab" x="-0.6" y="536.2">d</text>
<text class="lab" x="342.9" y="536.2">e</text>
<rect x="171" y="234.5" width="360" height="17" fill="url(#g1)" class="ax" style="fill:url(#g1)"/>
<text x="170.4" y="276.8" text-anchor="middle">0</text>
<path class="tk" d="M261 251.5 v-3.4"/>
<text x="260.4" y="276.8" text-anchor="middle">0.2</text>
<path class="tk" d="M351 251.5 v-3.4"/>
<text x="350.4" y="276.8" text-anchor="middle">0.4</text>
<path class="tk" d="M441 251.5 v-3.4"/>
<text x="440.4" y="276.8" text-anchor="middle">0.6</text>
<text x="530.4" y="276.8" text-anchor="middle">0.8</text>
<text x="550" y="276.6" font-size="18">[Occlusion sens.]</text>
<rect x="171.00" y="736.5" width="13.16" height="16.1" fill="#00008B"/>
<rect x="183.86" y="736.5" width="13.16" height="16.1" fill="#0000AC"/>
<rect x="196.71" y="736.5" width="13.16" height="16.1" fill="#0000CD"/>
<rect x="209.57" y="736.5" width="13.16" height="16.1" fill="#0000EE"/>
<rect x="222.43" y="736.5" width="13.16" height="16.1" fill="#0018FF"/>
<rect x="235.29" y="736.5" width="13.16" height="16.1" fill="#0040FF"/>
<rect x="248.14" y="736.5" width="13.16" height="16.1" fill="#0068FF"/>
<rect x="261.00" y="736.5" width="13.16" height="16.1" fill="#0090FF"/>
<rect x="273.86" y="736.5" width="13.16" height="16.1" fill="#00B0FF"/>
<rect x="286.71" y="736.5" width="13.16" height="16.1" fill="#00D0FF"/>
<rect x="299.57" y="736.5" width="13.16" height="16.1" fill="#00F0FF"/>
<rect x="312.43" y="736.5" width="13.16" height="16.1" fill="#40FFFF"/>
<rect x="325.29" y="736.5" width="13.16" height="16.1" fill="#90FFFF"/>
<rect x="338.14" y="736.5" width="13.16" height="16.1" fill="#E0FFFF"/>
<rect x="351.00" y="736.5" width="13.16" height="16.1" fill="#FFFFE0"/>
<rect x="363.86" y="736.5" width="13.16" height="16.1" fill="#FFFF90"/>
<rect x="376.71" y="736.5" width="13.16" height="16.1" fill="#FFFF40"/>
<rect x="389.57" y="736.5" width="13.16" height="16.1" fill="#FFF000"/>
<rect x="402.43" y="736.5" width="13.16" height="16.1" fill="#FFD000"/>
<rect x="415.29" y="736.5" width="13.16" height="16.1" fill="#FFB000"/>
<rect x="428.14" y="736.5" width="13.16" height="16.1" fill="#FF9000"/>
<rect x="441.00" y="736.5" width="13.16" height="16.1" fill="#FF6A00"/>
<rect x="453.86" y="736.5" width="13.16" height="16.1" fill="#FF4800"/>
<rect x="466.71" y="736.5" width="13.16" height="16.1" fill="#FF2000"/>
<rect x="479.57" y="736.5" width="13.16" height="16.1" fill="#E80000"/>
<rect x="492.43" y="736.5" width="13.16" height="16.1" fill="#C80000"/>
<rect x="505.29" y="736.5" width="13.16" height="16.1" fill="#A80000"/>
<rect x="518.14" y="736.5" width="12.86" height="16.1" fill="#800000"/>
<path class="tk" d="M183.86 752.6 v-2.6M196.71 752.6 v-2.6M209.57 752.6 v-2.6M222.43 752.6 v-2.6M235.29 752.6 v-2.6M248.14 752.6 v-2.6M261.00 752.6 v-2.6M273.86 752.6 v-2.6M286.71 752.6 v-2.6M299.57 752.6 v-2.6M312.43 752.6 v-2.6M325.29 752.6 v-2.6M338.14 752.6 v-2.6M351.00 752.6 v-2.6M363.86 752.6 v-2.6M376.71 752.6 v-2.6M389.57 752.6 v-2.6M402.43 752.6 v-2.6M415.29 752.6 v-2.6M428.14 752.6 v-2.6M441.00 752.6 v-2.6M453.86 752.6 v-2.6M466.71 752.6 v-2.6M479.57 752.6 v-2.6M492.43 752.6 v-2.6M505.29 752.6 v-2.6M518.14 752.6 v-2.6"/>
<rect class="ax" x="171" y="736.5" width="360" height="16.1"/>
<text x="196.3" y="777.7" text-anchor="middle">-0.24</text>
<text x="247.7" y="777.7" text-anchor="middle">-0.16</text>
<text x="299.2" y="777.7" text-anchor="middle">-0.08</text>
<text x="350.3" y="777.7" text-anchor="middle">0</text>
<text x="401.7" y="777.7" text-anchor="middle">0.08</text>
<text x="453.2" y="777.7" text-anchor="middle">0.16</text>
<text x="504.6" y="777.7" text-anchor="middle">0.24</text>
<text x="536.3" y="777.7">[<tspan dy="-7.6" font-size="13.2">o</tspan><tspan dy="7.6">C per decade]</tspan></text>
<g>
<rect x="114.2" y="370.5" width="33.6" height="98.5" fill="#1172BA" stroke="#000" stroke-width="0.9"/>
<rect x="169.5" y="362.1" width="33.6" height="106.9" fill="#ECB140" stroke="#000" stroke-width="0.9"/>
<rect x="224.3" y="382.2" width="33.6" height="86.8" fill="#D85828" stroke="#000" stroke-width="0.9"/>
<rect x="279.5" y="396.3" width="33.6" height="72.7" fill="#A91E22" stroke="#000" stroke-width="0.9"/>
<rect x="416.8" y="401.2" width="33.6" height="67.8" fill="#1172BA" stroke="#000" stroke-width="0.9"/>
<rect x="472" y="371.1" width="33.6" height="97.9" fill="#ECB140" stroke="#000" stroke-width="0.9"/>
<rect x="526.9" y="327" width="33.6" height="142" fill="#D85828" stroke="#000" stroke-width="0.9"/>
<rect x="581.9" y="318" width="33.6" height="151" fill="#A91E22" stroke="#000" stroke-width="0.9"/>
<rect class="ax" x="62.5" y="288.5" width="604.8" height="180.5"/>
<text x="49.3" y="476.3" text-anchor="end">0</text>
<text x="49.3" y="416.1" text-anchor="end">0.2</text>
<text x="49.3" y="356" text-anchor="end">0.4</text>
<text x="49.3" y="295.8" text-anchor="end">0.6</text>
<text x="213.6" y="501.1" text-anchor="middle">Central</text>
<text x="516.1" y="501.1" text-anchor="middle">Eastern</text>
<path class="tk" d="M62.5 469 h-7 M667.3 469 h7M62.5 408.8 h-7 M667.3 408.8 h7M62.5 348.7 h-7 M667.3 348.7 h7M62.5 288.5 h-7 M667.3 288.5 h7M213.6 469 v7 M213.6 288.5 v-7M516.1 469 v7 M516.1 288.5 v-7"/>
<text transform="translate(15.6 380.1) rotate(-90)" text-anchor="middle">Occlusion sensitivity</text>
<rect x="78.5" y="302.8" width="44.6" height="16.6" fill="#1172BA" stroke="#000" stroke-width="0.9"/>
<text x="126.9" y="317.4">PiControl</text>
<rect x="78.5" y="326.7" width="44.6" height="16.6" fill="#ECB140" stroke="#000" stroke-width="0.9"/>
<text x="126.9" y="341.3">Historical</text>
<rect x="209" y="302.8" width="44.6" height="16.6" fill="#D85828" stroke="#000" stroke-width="0.9"/>
<text x="257.6" y="317.4">2015-2100</text>
<rect x="209" y="326.7" width="44.6" height="16.6" fill="#A91E22" stroke="#000" stroke-width="0.9"/>
<text x="257.6" y="341.3">2101-2300</text>
</g>
</svg></body></html>
